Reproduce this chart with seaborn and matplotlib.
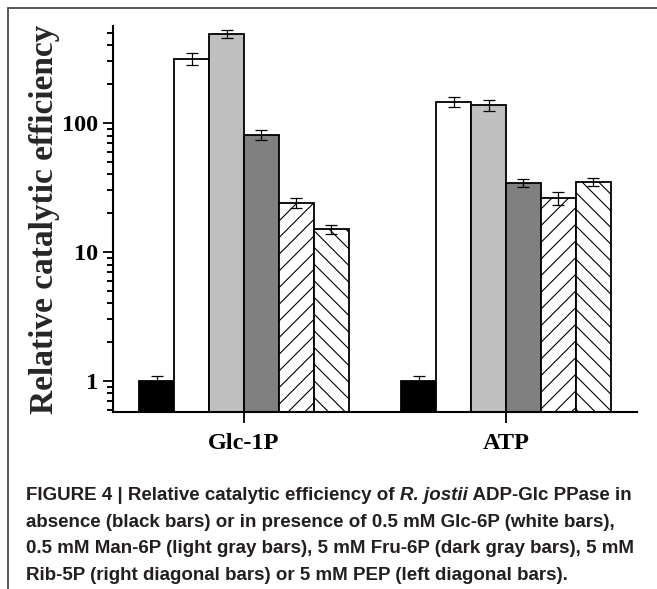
import matplotlib
matplotlib.use("Agg")
import numpy as np
import pandas as pd
import seaborn as sns
import matplotlib.pyplot as plt
from matplotlib.lines import Line2D
from matplotlib.markers import TICKLEFT
from matplotlib.ticker import NullFormatter

# ---------------- data ----------------
substrates = ["Glc-1P", "ATP"]
effectors = ["None", "Glc-6P", "Man-6P", "Fru-6P", "Rib-5P", "PEP"]
glc1p_values = [1.0, 313, 490, 81, 24, 15.1]
glc1p_errors = [0.1, 33, 33, 7.5, 2.0, 1.2]
atp_values = [1.0, 146, 137, 34.3, 26.3, 35.1]
atp_errors = [0.1, 13, 13.5, 2.6, 3.0, 2.5]
y_ticks = [1, 10, 100]
y_tick_labels = ["1", "10", "100"]
y_label = "Relative catalytic efficiency"

bar_colors = ["#000000", "#ffffff", "#c0c0c0", "#808080", "#ffffff", "#ffffff"]
bar_hatches = ["", "", "", "", "//", "\\\\"]

caption_lines = [
    [("FIGURE 4 | Relative catalytic efficiency of ", "normal"),
     ("R. jostii", "italic"),
     (" ADP-Glc PPase in", "normal")],
    [("absence (black bars) or in presence of 0.5 mM Glc-6P (white bars),", "normal")],
    [("0.5 mM Man-6P (light gray bars), 5 mM Fru-6P (dark gray bars), 5 mM", "normal")],
    [("Rib-5P (right diagonal bars) or 5 mM PEP (left diagonal bars).", "normal")],
]

rows = []
for sub, vals, errs in [("Glc-1P", glc1p_values, glc1p_errors), ("ATP", atp_values, atp_errors)]:
    for eff, v, e in zip(effectors, vals, errs):
        rows.append({"substrate": sub, "effector": eff, "value": v, "err": e})
df = pd.DataFrame(rows)

# ---------------- style ----------------
sns.set_style("ticks")
serif = ["Liberation Serif", "DejaVu Serif"]
plt.rcParams["font.family"] = serif
plt.rcParams["hatch.color"] = "black"
plt.rcParams["hatch.linewidth"] = 0.8
plt.rcParams["axes.axisbelow"] = False

W, H = 657, 589
fig = plt.figure(figsize=(W / 100, H / 100), dpi=100)
ax = fig.add_axes([113 / W, 1 - 412 / H, (637 - 113) / W, (412 - 26) / H])
ax.set_yscale("log")

sns.barplot(data=df, x="substrate", y="value", hue="effector",
            order=substrates, hue_order=effectors,
            palette=dict(zip(effectors, bar_colors)), saturation=1,
            edgecolor="black", linewidth=1.3, errorbar=None,
            width=0.8, legend=False, ax=ax)

# hatches and error bars
bar_containers = list(ax.containers)
for i, cont in enumerate(bar_containers):
    eff = effectors[i]
    sub_df = df[df["effector"] == eff].set_index("substrate").loc[substrates]
    xs = []
    for patch in cont.patches:
        patch.set_hatch(bar_hatches[i])
        xs.append(patch.get_x() + patch.get_width() / 2)
    ax.errorbar(xs, sub_df["value"].values, yerr=sub_df["err"].values,
                fmt="none", ecolor="black", elinewidth=0.9,
                capsize=4.3, capthick=0.9, zorder=5)

ymin, ymax = 0.575, 565
ax.set_ylim(ymin, ymax)
ax.set_xlim(-0.5, 1.5)
minor_locs = [k * 10.0 ** d for d in range(-1, 3) for k in range(2, 10)]
minor_locs = [m for m in minor_locs if ymin <= m <= ymax]
ax.set_yticks(y_ticks)
ax.set_yticklabels(y_tick_labels)
ax.set_yticks(minor_locs, minor=True)
ax.yaxis.set_minor_formatter(NullFormatter())
ax.set_xlabel("")
ax.set_ylabel(y_label, fontsize=24, fontweight="bold", family=serif, labelpad=1)

for s in ["top", "right"]:
    ax.spines[s].set_visible(False)
for s in ["left", "bottom"]:
    ax.spines[s].set_linewidth(1.5)
    ax.spines[s].set_color("black")

ax.tick_params(axis="y", which="major", length=7, width=1.3, direction="out",
               pad=4, labelsize=17.5, colors="black")
ax.yaxis.set_tick_params(which="minor", left=True, length=4.5, width=1.2,
                         direction="out", color="black")
ax.tick_params(axis="x", which="major", length=8, width=1.3, direction="out",
               pad=7, labelsize=17.5, colors="black")
for lab in ax.get_xticklabels() + ax.get_yticklabels():
    lab.set_fontweight("bold")
    lab.set_family(serif)

# minor tick marks drawn as tick markers on the y-axis transform (fallback)
ax.plot(np.zeros(len(minor_locs)), minor_locs, linestyle="none",
        marker=TICKLEFT, markersize=4.5, markeredgewidth=1.2, color="black",
        transform=ax.get_yaxis_transform(), clip_on=False, zorder=6)

# ---------------- outer frame ----------------
frame_kw = dict(transform=fig.transFigure, color="#4a4a4a", lw=1.3)
fig.add_artist(Line2D([8 / W, 1], [1 - 8 / H, 1 - 8 / H], **frame_kw))
fig.add_artist(Line2D([8 / W, 8 / W], [0, 1 - 8 / H], **frame_kw))

# ---------------- caption ----------------
sans = ["Liberation Sans", "DejaVu Sans"]
cap_size = 13.5
x0 = 26
baseline0 = 500
line_step = 26.7
fig.canvas.draw()
renderer = fig.canvas.get_renderer()
for li, pieces in enumerate(caption_lines):
    xpix = x0
    ypix = baseline0 + li * line_step
    for txt, style in pieces:
        t = fig.text(xpix / W, 1 - ypix / H, txt, fontsize=cap_size,
                     fontweight="bold", fontstyle=style, family=sans,
                     color="#231f20", ha="left", va="baseline")
        bb = t.get_window_extent(renderer=renderer)
        xpix = bb.x1

fig.savefig("out.png", dpi=100)
